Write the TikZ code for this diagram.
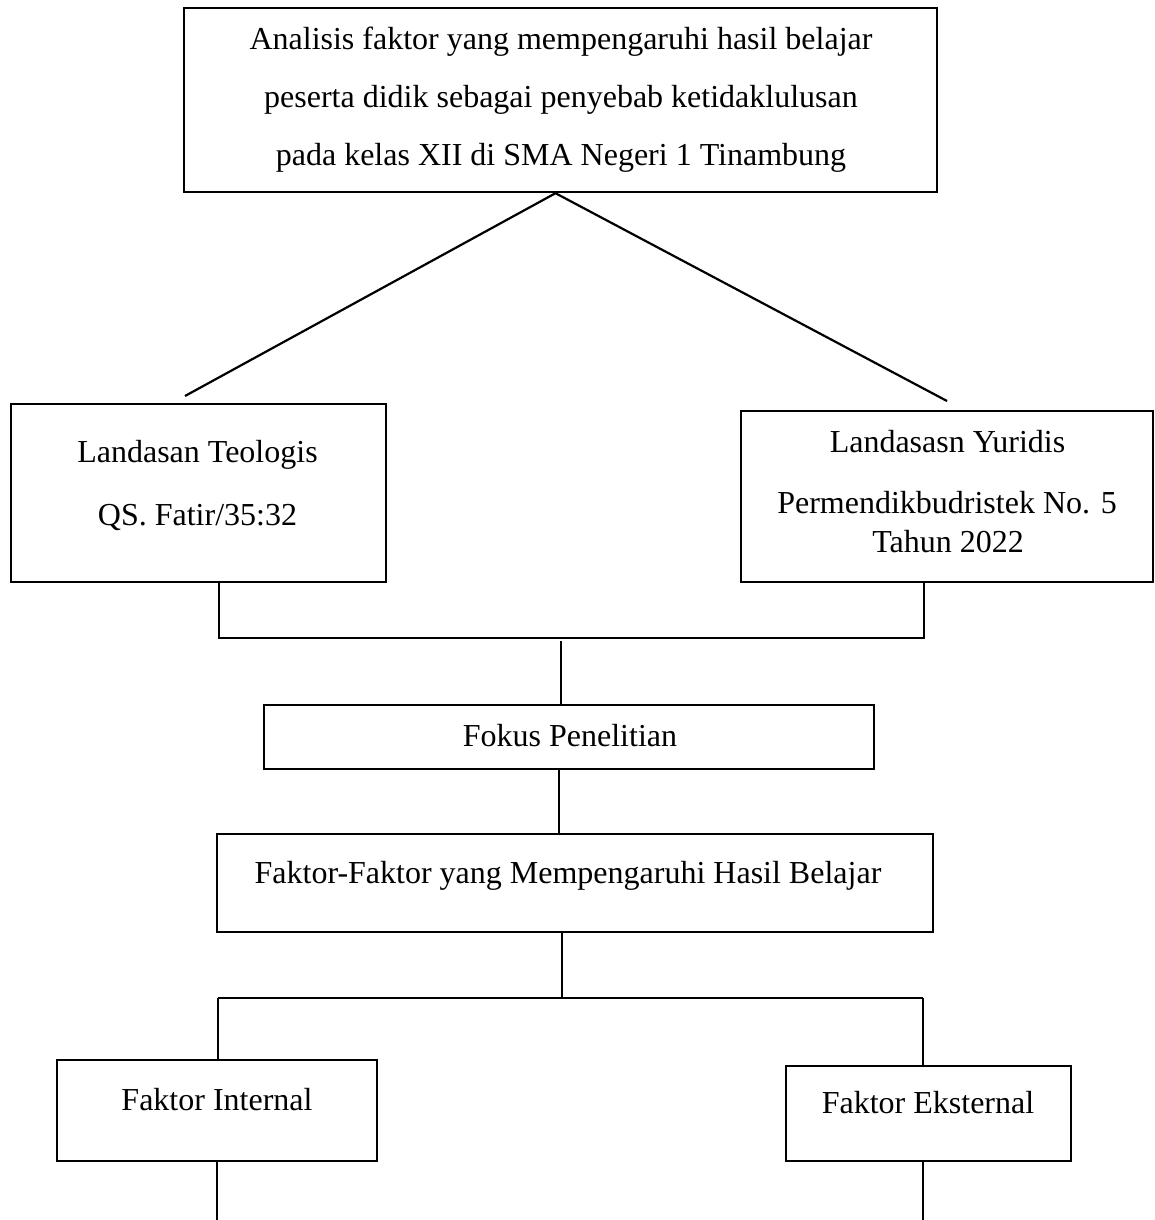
\documentclass[tikz,border=0pt]{standalone}
\usepackage{fontspec}
\setmainfont{Liberation Serif}
\usetikzlibrary{calc}
\begin{document}
\begin{tikzpicture}[x=1pt,y=-1pt,
  box/.style={draw, line width=2.4pt, inner sep=0pt, rectangle},
  lbl/.style={anchor=base, inner sep=0pt, font=\fontsize{32}{38}\selectfont},
  heavy/.style={line width=2.2pt},
  light/.style={line width=1.1pt}]
\useasboundingbox (0,0) rectangle (1155,1220);
% boxes
\node[box, minimum width=753pt, minimum height=184pt] (top) at (560.5,100) {};
\node[box, minimum width=375pt, minimum height=178pt] (teo) at (198.5,493) {};
\node[box, minimum width=412pt, minimum height=171pt] (yur) at (947,496.5) {};
\node[box, minimum width=610pt, minimum height=64pt] (fok) at (569,737) {};
\node[box, minimum width=716pt, minimum height=98pt] (fak) at (575,883) {};
\node[box, minimum width=320pt, minimum height=101pt] (int) at (217,1110.5) {};
\node[box, minimum width=285pt, minimum height=95pt] (ext) at (928.5,1113.5) {};
% texts
\node[lbl] (topa) at (561,50) {Analisis faktor yang mempengaruhi hasil belajar};
\node[lbl] (topb) at (561,108) {peserta didik sebagai penyebab ketidaklulusan};
\node[lbl] (topc) at (561,165) {pada kelas XII di SMA Negeri 1 Tinambung};
\node[lbl] (teoa) at (197.5,462) {Landasan Teologis};
\node[lbl] (teob) at (197.5,525) {QS. Fatir/35:32};
\node[lbl] (yura) at (947.5,452) {Landasasn Yuridis};
\node[lbl] (yurb) at (947,513) {Permendikbudristek No. 5};
\node[lbl] (yurc) at (948,552) {Tahun 2022};
\node[lbl] (fokt) at (570,746) {Fokus Penelitian};
\node[lbl] (fakt) at (568,883) {Faktor-Faktor yang Mempengaruhi Hasil Belajar};
\node[lbl] (intt) at (217,1110) {Faktor Internal};
\node[lbl] (extt) at (928,1113) {Faktor Eksternal};
% connectors
\coordinate (apex) at ($(top.south)+(-5,0)$);
\coordinate (dl) at (185,396);
\coordinate (dr) at (947,401);
\draw[heavy] (dl) -- (apex) -- (dr);
\coordinate (bl) at (219,638);
\coordinate (br) at (924,638);
\draw[heavy] (teo.south -| bl) -- (bl) -- (br) -- (yur.south -| br);
\coordinate (bm) at (561,641);
\draw[light] (bm) -- (fok.north -| bm);
\coordinate (fm) at (559,800);
\draw[heavy] (fok.south -| fm) -- (fak.north -| fm);
\coordinate (sm) at (562,998);
\draw[light] (fak.south -| sm) -- (sm);
\coordinate (sl) at (218,998);
\coordinate (sr) at (923,998);
\draw[line width=1.6pt] (sl) -- (sr);
\draw[light] (sl) -- (int.north -| sl);
\draw[light] (sr) -- (ext.north -| sr);
\coordinate (el1) at (217,1220);
\coordinate (el2) at (923,1220);
\draw[light] (int.south -| el1) -- (el1);
\draw[light] (ext.south -| el2) -- (el2);
\end{tikzpicture}
\end{document}
